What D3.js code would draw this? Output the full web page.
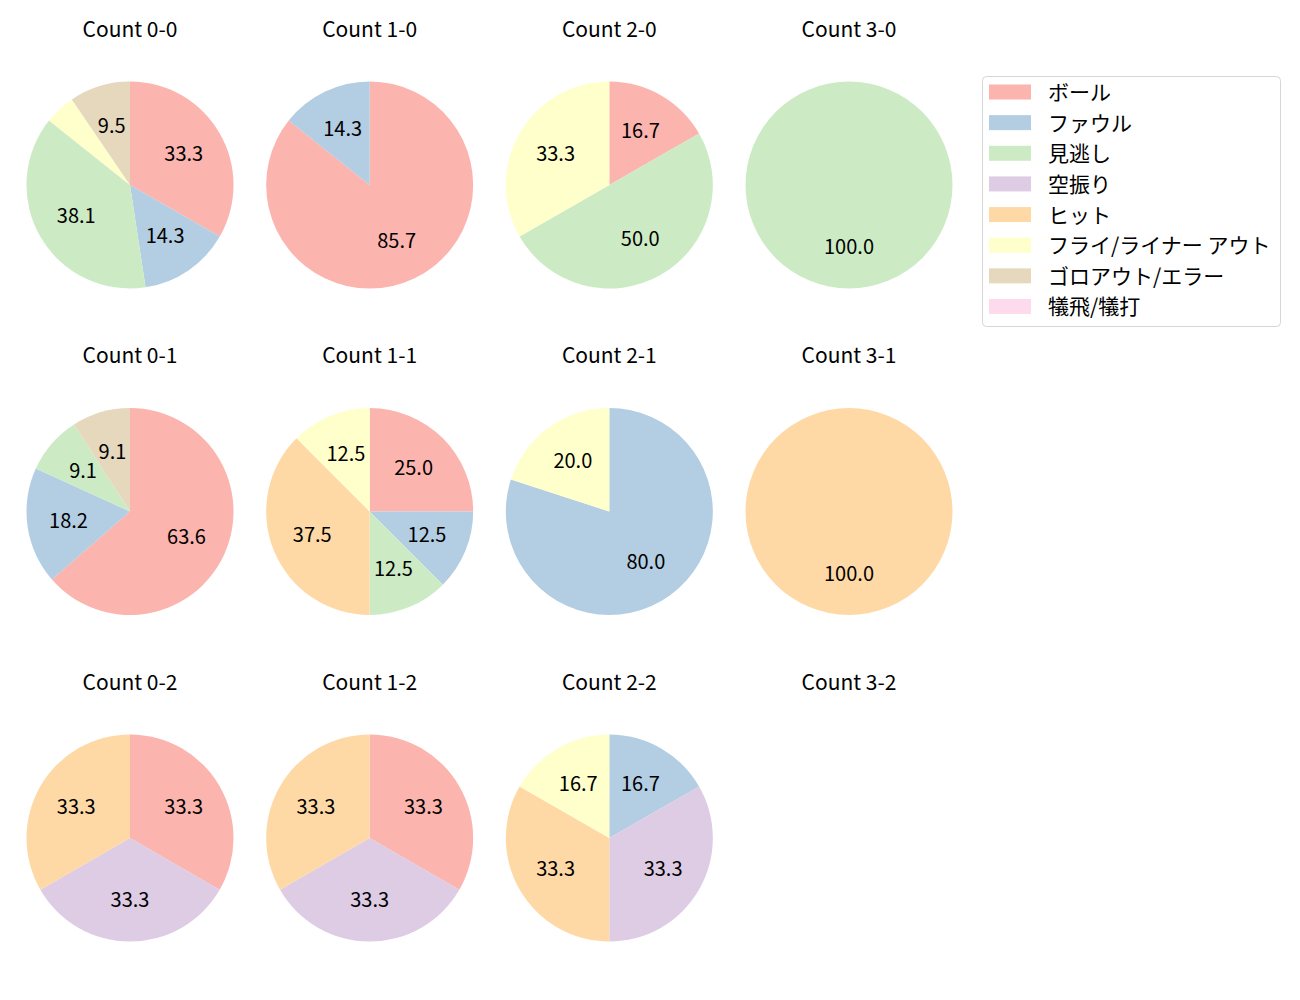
<!DOCTYPE html>
<html>
<head>
<meta charset="utf-8">
<script src="https://cdn.jsdelivr.net/npm/d3@7"></script>
<style>
  html, body { margin: 0; padding: 0; background: #fff; }
  svg { display: block; }
  text { font-family: "Noto Sans CJK JP", "Noto Sans", sans-serif; fill: #000; }
</style>
</head>
<body>
<svg id="chart" width="1300" height="1000"></svg>
<script>
// ---- data ----
const categories = ["ボール", "ファウル", "見逃し", "空振り", "ヒット", "フライ/ライナー アウト", "ゴロアウト/エラー", "犠飛/犠打"];
const colors = ["#fbb4ae", "#b3cde3", "#ccebc5", "#decbe4", "#fed9a6", "#ffffcc", "#e5d8bd", "#fddaec"];
const counts = ["0-0", "1-0", "2-0", "3-0", "0-1", "1-1", "2-1", "3-1", "0-2", "1-2", "2-2", "3-2"];
// percentage of each category per count (same order as counts)
const ball   = [33.3, 85.7, 16.7, 0,   63.6, 25.0, 0,    0,   33.3, 33.3, 0,    0];
const foul   = [14.3, 14.3, 0,    0,   18.2, 12.5, 80.0, 0,   0,    0,    16.7, 0];
const looking= [38.1, 0,    50.0, 100, 9.1,  12.5, 0,    0,   0,    0,    0,    0];
const swing  = [0,    0,    0,    0,   0,    0,    0,    0,   33.3, 33.3, 33.3, 0];
const hit    = [0,    0,    0,    0,   0,    37.5, 0,    100, 33.3, 33.3, 33.3, 0];
const fly    = [4.8,  0,    33.3, 0,   0,    12.5, 20.0, 0,   0,    0,    16.7, 0];
const ground = [9.5,  0,    0,    0,   9.1,  0,    0,    0,   0,    0,    0,    0];
const sac    = [0,    0,    0,    0,   0,    0,    0,    0,   0,    0,    0,    0];
const series = [ball, foul, looking, swing, hit, fly, ground, sac];

// ---- layout ----
const svg = d3.select("#chart");
const colX = d3.scalePoint().domain([0,1,2,3]).range([130, 849]);
const rowY = d3.scalePoint().domain([0,1,2]).range([185, 838]);
const R = 103.5;
const color = d3.scaleOrdinal().domain(categories).range(colors);

const pie = d3.pie().sort(null).value(d => d.value).startAngle(0).endAngle(2 * Math.PI);
const arc = d3.arc().innerRadius(0).outerRadius(R);
const labelArc = d3.arc().innerRadius(R * 0.6).outerRadius(R * 0.6);

counts.forEach((c, i) => {
  const col = i % 4, row = Math.floor(i / 4);
  const g = svg.append("g").attr("transform", `translate(${colX(col)},${rowY(row)})`);
  g.append("text")
    .attr("x", 0).attr("y", -156)
    .attr("dy", "0.36em")
    .attr("text-anchor", "middle")
    .style("font-size", "21px")
    .text("Count " + c);
  const data = categories.map((cat, k) => ({cat, value: series[k][i]})).filter(d => d.value > 0);
  if (!data.length) return;
  const arcs = pie(data);
  g.selectAll("path").data(arcs).join("path")
    .attr("d", arc)
    .attr("fill", d => color(d.data.cat));
  g.selectAll("text.lbl").data(arcs.filter(d => d.data.value >= 5)).join("text")
    .attr("class", "lbl")
    .attr("transform", d => `translate(${labelArc.centroid(d)})`)
    .attr("dy", "0.36em")
    .attr("text-anchor", "middle")
    .style("font-size", "20px")
    .text(d => d3.format(".1f")(d.data.value));
});

// ---- legend ----
const lg = svg.append("g");
lg.append("rect")
  .attr("x", 982.5).attr("y", 76.5).attr("width", 298).attr("height", 250)
  .attr("rx", 4).attr("fill", "#fff").attr("stroke", "#d6d6d6").attr("stroke-width", 1);
const ly = d3.scaleLinear().domain([0, 7]).range([92, 306.5]);
categories.forEach((cat, k) => {
  lg.append("rect")
    .attr("x", 989).attr("y", ly(k) - 7.5).attr("width", 42).attr("height", 15)
    .attr("fill", colors[k]);
  lg.append("text")
    .attr("x", 1048).attr("y", ly(k))
    .attr("dy", "0.38em")
    .style("font-size", "21px")
    .text(cat);
});
</script>
</body>
</html>
